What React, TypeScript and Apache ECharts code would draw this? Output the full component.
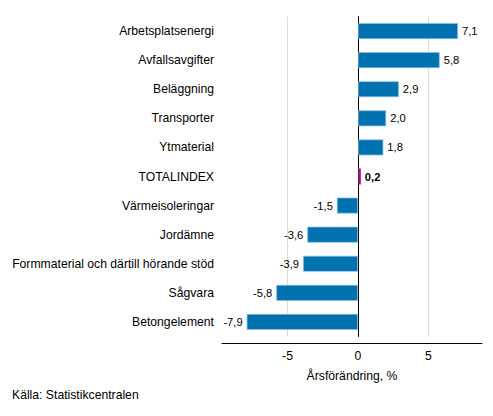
import React, { useEffect, useRef } from "react";
import * as echarts from "echarts";

const categories = [
  "Arbetsplatsenergi",
  "Avfallsavgifter",
  "Beläggning",
  "Transporter",
  "Ytmaterial",
  "TOTALINDEX",
  "Värmeisoleringar",
  "Jordämne",
  "Formmaterial och därtill hörande stöd",
  "Sågvara",
  "Betongelement",
];
const values = [7.1, 5.8, 2.9, 2.0, 1.8, 0.2, -1.5, -3.6, -3.9, -5.8, -7.9];
const totalCategory = "TOTALINDEX";
const gridTicks = [-5, 5];
const axisTitle = "Årsförändring, %";
const sourceText = "Källa: Statistikcentralen";

const FONT = "'Liberation Sans', Arial, sans-serif";
const BLUE = "#0072b0";
const PURPLE = "#9c0a7d";

export default function App() {
  const ref = useRef<HTMLDivElement>(null);
  useEffect(() => {
    if (!ref.current) return;
    const chart = echarts.init(ref.current, undefined, { renderer: "svg" });
    const data = values.map((v, i) => {
      const isTotal = categories[i] === totalCategory;
      return {
        value: v,
        itemStyle: isTotal
          ? { color: PURPLE, borderWidth: 0 }
          : { color: BLUE, borderColor: "rgba(140,190,225,0.9)", borderWidth: 0.8 },
        label: {
          position: v >= 0 ? "right" : "left",
          fontWeight: isTotal ? "bold" : "normal",
        },
      };
    });
    chart.setOption({
      animation: false,
      textStyle: { fontFamily: FONT },
      grid: { left: 222, right: 11, top: 16.5, bottom: 79.5, containLabel: false },
      xAxis: {
        type: "value",
        min: -9.65,
        max: 8.8,
        minInterval: 5,
        maxInterval: 5,
        offset: 6.5,
        axisLine: { show: true, lineStyle: { color: "#000", width: 1 } },
        axisTick: { show: false },
        splitLine: { show: false },
        axisLabel: {
          color: "#000",
          fontSize: 12.2,
          fontFamily: FONT,
          margin: 7,
          showMinLabel: false,
          showMaxLabel: false,
          formatter: (v: number) =>
            Math.abs(v % 5) < 1e-9 ? String(v).replace(".", ",") : "",
        },
        name: axisTitle,
        nameLocation: "middle",
        nameGap: 27,
        nameTextStyle: { color: "#000", fontSize: 12.2, fontFamily: FONT },
      },
      yAxis: {
        type: "category",
        inverse: true,
        data: categories,
        axisLine: { show: true, onZero: true, lineStyle: { color: "#000", width: 1 } },
        axisTick: { show: false },
        axisLabel: { color: "#000", fontSize: 12.2, fontFamily: FONT, margin: 8 },
        splitLine: { show: false },
      },
      series: [
        {
          type: "bar",
          data,
          barWidth: 16,
          label: {
            show: true,
            color: "#000",
            fontSize: 11.2,
            fontFamily: FONT,
            distance: 4,
            formatter: (p: any) => p.value.toFixed(1).replace(".", ","),
          },
          markLine: {
            silent: true,
            symbol: "none",
            label: { show: false },
            lineStyle: { color: "#dcdcdc", width: 1, type: "solid" },
            data: gridTicks.map((t) => ({ xAxis: t })),
            z: 0,
          },
          z: 2,
        },
      ],
      graphic: [
        {
          type: "text",
          left: 12,
          top: 389,
          style: { text: sourceText, fontSize: 12.2, fontFamily: FONT, fill: "#000" },
        },
      ],
    });
    return () => chart.dispose();
  }, []);
  return <div ref={ref} style={{ width: 493, height: 416, position: "absolute", left: 0, top: 0 }} />;
}
